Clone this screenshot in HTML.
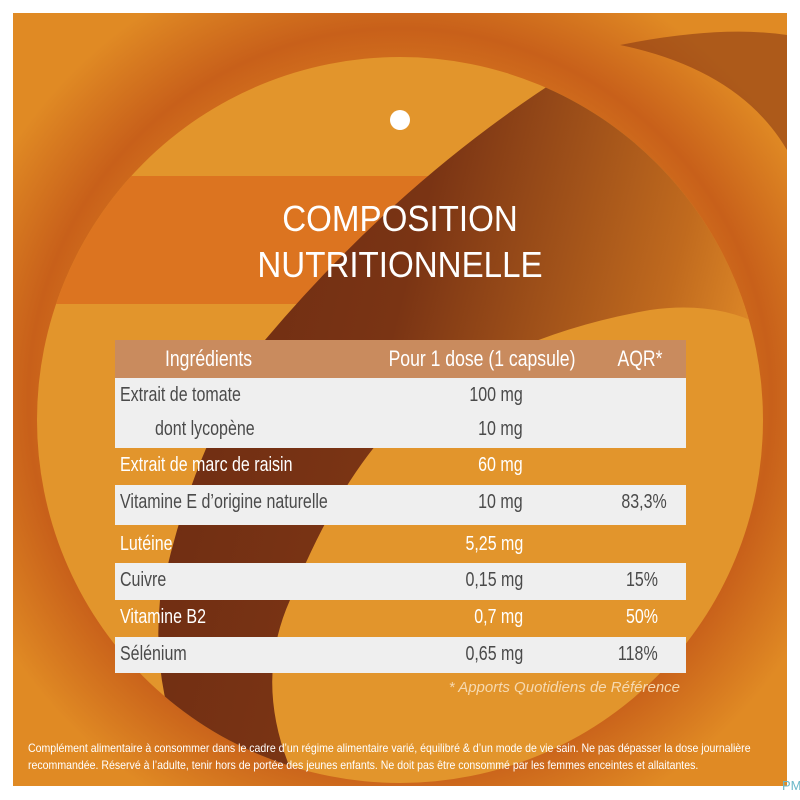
<!DOCTYPE html>
<html><head><meta charset="utf-8"><style>
body{margin:0;background:#fff;}
#w{position:relative;width:800px;height:800px;overflow:hidden;font-family:"Liberation Sans",sans-serif;}
svg{position:absolute;left:0;top:0;}
.t{position:absolute;white-space:nowrap;}
.L{transform:scaleX(0.8);transform-origin:left top;}
.R{transform:scaleX(0.8);transform-origin:right top;}
.C{transform:scaleX(0.8);transform-origin:center top;}
.r{font-size:20px;color:#4a4a4a;}
.o{color:#fff;}
</style></head><body><div id="w">
<svg width="800" height="800">
<defs>
<radialGradient id="bg" cx="50%" cy="50%" r="60%">
<stop offset="0.55" stop-color="#e38a22"/><stop offset="0.8" stop-color="#c8601a"/><stop offset="1" stop-color="#e08a24"/>
</radialGradient>
<linearGradient id="dk" x1="0" y1="0" x2="1" y2="0.3">
<stop offset="0" stop-color="#6a2a12"/><stop offset="0.45" stop-color="#7a3414"/><stop offset="0.85" stop-color="#c06a1e"/><stop offset="1" stop-color="#e08a28"/>
</linearGradient>
<clipPath id="cc"><circle cx="400" cy="420" r="363"/></clipPath>
</defs>
<rect x="13" y="13" width="774" height="773" fill="url(#bg)"/>
<path d="M620 45 Q720 25 787 35 L787 150 Q740 70 620 45Z" fill="#8a3a14" opacity="0.6"/>
<circle cx="400" cy="420" r="363" fill="#e2952c"/>
<g clip-path="url(#cc)">
<rect x="30" y="176" width="740" height="128" fill="#dc7420"/>
<path d="M565 75 Q400 180 265 340 Q190 450 160 600 Q150 700 200 790 L300 790 Q250 690 290 600 Q330 500 380 440 Q480 340 650 310 Q720 300 770 330 L770 140 Q700 85 565 75Z" fill="url(#dk)"/>
</g>
<circle cx="400" cy="120" r="10" fill="#fff"/>
<rect x="115" y="340" width="571" height="38" fill="#c98b5e"/>
<rect x="115" y="378" width="571" height="70" fill="#efefef"/>
<rect x="115" y="485" width="571" height="40" fill="#efefef"/>
<rect x="115" y="563" width="571" height="37" fill="#efefef"/>
<rect x="115" y="637" width="571" height="36" fill="#efefef"/>
</svg>
<div class="t" style="left:0;width:800px;text-align:center;top:196px;font-size:36px;line-height:46px;color:#fff;"><div class="C" style="transform:scaleX(0.92)">COMPOSITION<br>NUTRITIONNELLE</div></div>
<div class="t o C" style="left:155px;width:100px;text-align:center;top:346px;font-size:22px;">Ingrédients</div>
<div class="t o C" style="left:332px;width:300px;text-align:center;top:346px;font-size:22px;">Pour 1 dose (1 capsule)</div>
<div class="t o C" style="left:600px;width:80px;text-align:center;top:346px;font-size:22px;">AQR*</div>
<div class="t r L" style="left:120px;top:384px;">Extrait de tomate</div>
<div class="t r L" style="left:155px;top:418px;">dont lycopène</div>
<div class="t r R" style="right:277px;top:384px;">100 mg</div>
<div class="t r R" style="right:277px;top:418px;">10 mg</div>
<div class="t r o L" style="left:120px;top:454px;">Extrait de marc de raisin</div>
<div class="t r o R" style="right:277px;top:454px;">60 mg</div>
<div class="t r L" style="left:120px;top:491px;">Vitamine E d’origine naturelle</div>
<div class="t r R" style="right:277px;top:491px;">10 mg</div>
<div class="t r R" style="right:133px;top:491px;">83,3%</div>
<div class="t r o L" style="left:120px;top:533px;">Lutéine</div>
<div class="t r o R" style="right:277px;top:533px;">5,25 mg</div>
<div class="t r L" style="left:120px;top:569px;">Cuivre</div>
<div class="t r R" style="right:277px;top:569px;">0,15 mg</div>
<div class="t r R" style="right:142px;top:569px;">15%</div>
<div class="t r o L" style="left:120px;top:606px;">Vitamine B2</div>
<div class="t r o R" style="right:277px;top:606px;">0,7 mg</div>
<div class="t r o R" style="right:142px;top:606px;">50%</div>
<div class="t r L" style="left:120px;top:643px;">Sélénium</div>
<div class="t r R" style="right:277px;top:643px;">0,65 mg</div>
<div class="t r R" style="right:142px;top:643px;">118%</div>
<div class="t" style="right:120px;top:679px;font-size:15px;font-style:italic;color:#f6d9b0;">* Apports Quotidiens de Référence</div>
<div class="t" style="left:28px;top:740px;font-size:12px;line-height:17px;color:#fff;transform:scaleX(0.88);transform-origin:left top;">Complément alimentaire à consommer dans le cadre d’un régime alimentaire varié, équilibré &amp; d’un mode de vie sain. Ne pas dépasser la dose journalière<br>recommandée. Réservé à l’adulte, tenir hors de portée des jeunes enfants. Ne doit pas être consommé par les femmes enceintes et allaitantes.</div>
<div class="t" style="left:782px;top:778px;font-size:13px;color:#6bb8c8;">PM</div>
</div></body></html>
